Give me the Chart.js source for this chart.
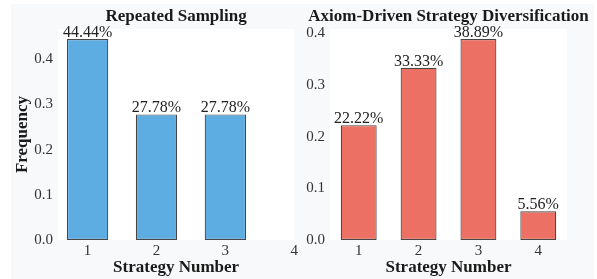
<!DOCTYPE html>
<html>
<head>
<meta charset="utf-8">
<script src="https://cdn.jsdelivr.net/npm/chart.js@4.4.1/dist/chart.umd.min.js"></script>
<style>
  body { margin: 0; background: #fff; }
  #fig { position: absolute; left: 11px; top: 4px; width: 583px; height: 275px; background: #f8f9fa; }
  canvas { position: absolute; top: 0; }
</style>
</head>
<body>
<div id="fig"></div>
<canvas id="leftChart" width="300" height="279" style="left:0"></canvas>
<canvas id="rightChart" width="297" height="279" style="left:300px"></canvas>
<script>
// data
const strategies = [1, 2, 3, 4];
const repeatedX = [1, 2, 3];
const repeatedFreq = [0.4444, 0.2778, 0.2778];
const axiomX = [1, 2, 3, 4];
const axiomFreq = [0.2222, 0.3333, 0.3889, 0.0556];
const yTicks = [0, 0.1, 0.2, 0.3, 0.4];

const serif = '"Liberation Serif", "Times New Roman", serif';

// white plot area, title over the axes and % labels above bars
const decor = {
    id: 'decor',
    beforeDraw(chart) {
        const a = chart.chartArea;
        const ctx = chart.ctx;
        ctx.save();
        ctx.fillStyle = '#ffffff';
        ctx.fillRect(a.left, a.top, a.right - a.left, a.bottom - a.top);
        ctx.restore();
    },
    afterDraw(chart, args, opts) {
        const a = chart.chartArea;
        const ctx = chart.ctx;
        ctx.save();
        ctx.fillStyle = '#1a1a1a';
        ctx.textAlign = 'center';
        ctx.textBaseline = 'alphabetic';
        ctx.font = 'bold 17px ' + serif;
        ctx.fillText(opts.title, (a.left + a.right) / 2, 21);
        ctx.font = '16px ' + serif;
        ctx.fillStyle = '#222';
        const meta = chart.getDatasetMeta(0);
        const vals = chart.data.datasets[0].data;
        meta.data.forEach(function(bar, i) {
            ctx.fillText((vals[i].y * 100).toFixed(2) + '%', bar.x, bar.y - 2);
        });
        ctx.restore();
    }
};

function makeChart(id, xs, ys, color, title, xmin, xmax, ymax, yTitle, pad, yWidth) {
    const points = xs.map(function(x, i) { return {x: x, y: ys[i]}; });
    return new Chart(document.getElementById(id), {
        type: 'bar',
        data: {
            datasets: [{
                data: points,
                backgroundColor: color,
                borderColor: '#474747',
                borderWidth: 1.2,
                borderSkipped: false,
                categoryPercentage: 1,
                barPercentage: 0.6
            }]
        },
        plugins: [decor],
        options: {
            responsive: false,
            animation: false,
            devicePixelRatio: 1,
            layout: { padding: pad },
            plugins: {
                legend: { display: false },
                tooltip: { enabled: false },
                decor: { title: title }
            },
            scales: {
                x: {
                    type: 'linear',
                    min: xmin,
                    max: xmax,
                    offset: false,
                    afterBuildTicks: function(s) { s.ticks = strategies.map(function(v) { return {value: v}; }); },
                    afterFit: function(s) { s.height = 39; },
                    grid: { display: false, drawTicks: false },
                    border: { display: false },
                    ticks: {
                        padding: 2,
                        color: '#333',
                        font: { family: serif, size: 15 },
                        maxRotation: 0
                    },
                    title: {
                        display: true,
                        text: 'Strategy Number',
                        color: '#1a1a1a',
                        font: { family: serif, size: 17, weight: 'bold' },
                        padding: { top: 0, bottom: 1 }
                    }
                },
                y: {
                    min: 0,
                    max: ymax,
                    afterBuildTicks: function(s) { s.ticks = yTicks.map(function(v) { return {value: v}; }); },
                    afterFit: function(s) { s.width = yWidth; },
                    grid: { display: false, drawTicks: false },
                    border: { display: false },
                    ticks: {
                        padding: 5,
                        color: '#333',
                        font: { family: serif, size: 15 },
                        callback: function(v) { return v.toFixed(1); }
                    },
                    title: {
                        display: yTitle !== '',
                        text: yTitle,
                        color: '#1a1a1a',
                        font: { family: serif, size: 17, weight: 'bold' },
                        padding: { top: 0, bottom: 0 }
                    }
                }
            }
        }
    });
}

makeChart('leftChart', repeatedX, repeatedFreq, '#5dade2', 'Repeated Sampling',
    0.57, 4.0, 0.4667, 'Frequency', {left: 12, right: 4, top: 29, bottom: 0}, 46);
makeChart('rightChart', axiomX, axiomFreq, '#ec7063', 'Axiom-Driven Strategy Diversification',
    0.52, 4.48, 0.4083, '', {left: 0, right: 30, top: 29, bottom: 0}, 30);
</script>
</body>
</html>
